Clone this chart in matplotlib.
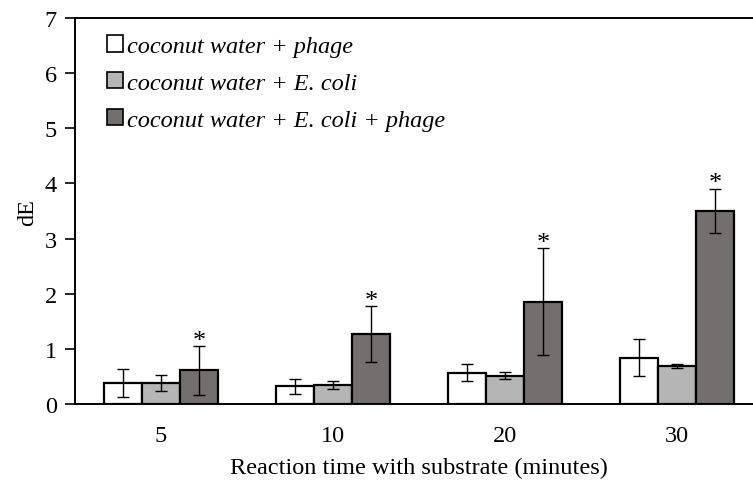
import matplotlib.pyplot as plt
from matplotlib.patches import Patch
import numpy as np

# data
times = ["5", "10", "20", "30"]
labels = ["coconut water + phage",
          "coconut water + E. coli",
          "coconut water + E. coli + phage"]
phage = [0.38, 0.32, 0.57, 0.84]
phage_err = [0.26, 0.13, 0.15, 0.34]
ecoli = [0.38, 0.34, 0.51, 0.69]
ecoli_err = [0.14, 0.07, 0.065, 0.04]
both = [0.61, 1.27, 1.85, 3.50]
both_err = [0.44, 0.50, 0.97, 0.40]

colors = ["#ffffff", "#b5b5b5", "#746f6f"]
fs = 17.5

plt.rcParams["font.family"] = ["Liberation Serif", "DejaVu Serif"]

fig = plt.figure(figsize=(7.53, 4.81), dpi=100)
ax = fig.add_axes([0.0996, 0.158, 0.9137, 0.8025])

x = np.arange(len(times))
w = 0.222
series = [(phage, phage_err), (ecoli, ecoli_err), (both, both_err)]
for k, (vals, errs) in enumerate(series):
    pos = x + (k - 1) * w
    ax.bar(pos, vals, w, color=colors[k], edgecolor="black", linewidth=1.6,
           zorder=2)
    ax.errorbar(pos, vals, yerr=errs, fmt="none", ecolor="black",
                elinewidth=1.0, capsize=4.5, capthick=1.0, zorder=3)

# significance marks over the phage + E. coli bars
for xi, v, e in zip(x + w, both, both_err):
    ax.annotate("*", (xi, v + e), xytext=(0, -4), textcoords="offset points",
                ha="center", va="bottom", fontsize=19)

ax.set_xlim(-0.5, 3.5)
ax.set_ylim(0, 7)
ax.set_xticks(x)
ax.set_xticklabels(times)
ax.set_yticks(range(8))
ax.tick_params(axis="x", length=0, pad=15, labelsize=fs)
ax.tick_params(axis="y", direction="out", length=7, width=1.2, pad=6,
               labelsize=fs)
for side in ["left", "bottom", "top"]:
    ax.spines[side].set_linewidth(1.4)
ax.spines["right"].set_visible(False)

ax.set_xlabel("Reaction time with substrate (minutes)", fontsize=fs,
              labelpad=8)
ax.set_ylabel("dE", fontsize=fs, labelpad=5)

handles = [Patch(facecolor=c, edgecolor="black", linewidth=1.2)
           for c in colors]
ax.legend(handles, labels, loc="upper left", bbox_to_anchor=(0.033, 0.98),
          frameon=False, prop={"style": "italic", "size": fs},
          handlelength=0.65, handleheight=0.65, handletextpad=0.15,
          labelspacing=0.62, borderaxespad=0)

fig.savefig("out.png", dpi=100)
